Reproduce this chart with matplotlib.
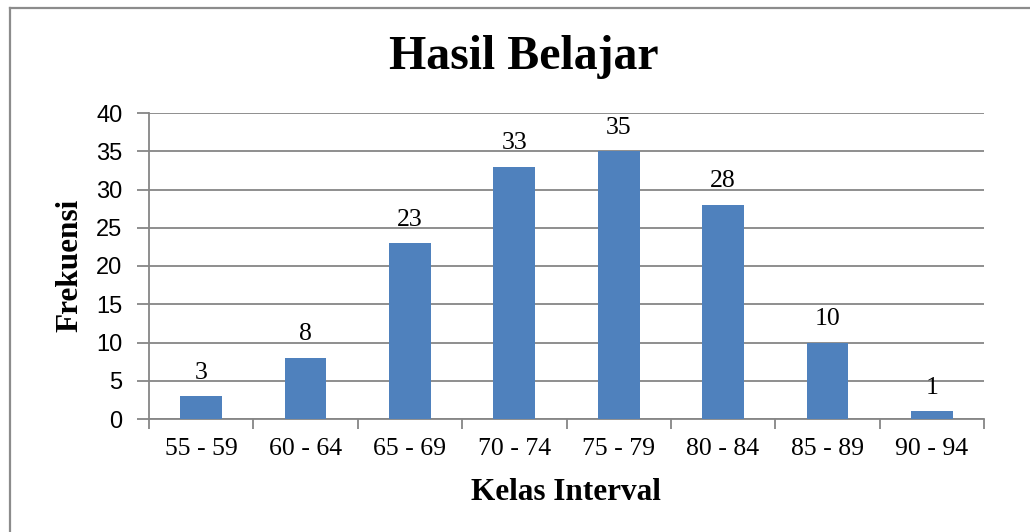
import matplotlib.pyplot as plt
from matplotlib.lines import Line2D

# Data
kelas = ["55 - 59", "60 - 64", "65 - 69", "70 - 74", "75 - 79", "80 - 84", "85 - 89", "90 - 94"]
frekuensi = [3, 8, 23, 33, 35, 28, 10, 1]

GRAY = "#868686"
BLUE = "#4F81BD"
SERIF = "Liberation Serif"
SANS = "Liberation Sans"

fig = plt.figure(figsize=(10.3, 5.32), dpi=100)
ax = fig.add_axes([149 / 1030, 1 - 419 / 532, 835 / 1030, 306 / 532])

x = range(len(kelas))
bars = ax.bar(x, frekuensi, width=0.4, color=BLUE, zorder=3)

# data labels above bars
for b, v in zip(bars, frekuensi):
    ax.annotate(str(v), (b.get_x() + b.get_width() / 2, v), xytext=(0, 9),
                textcoords="offset points", ha="center", va="bottom",
                fontsize=18.5, family=SERIF)

ax.set_xlim(-0.5, len(kelas) - 0.5)
ax.set_ylim(0, 40)
ax.set_yticks(range(0, 41, 5))
ax.grid(axis="y", color=GRAY, linewidth=1.3, zorder=0)

# ticks on category boundaries, labels in the middle
ax.set_xticks([i - 0.5 for i in range(len(kelas) + 1)])
ax.set_xticklabels([])
ax.set_xticks(list(x), minor=True)
ax.set_xticklabels(kelas, minor=True, fontsize=18.5, family=SERIF)
ax.tick_params(axis="x", which="major", length=7, width=1.3, color=GRAY)
ax.tick_params(axis="x", which="minor", length=0, pad=14)
ax.tick_params(axis="y", length=9, width=1.3, color=GRAY, pad=10)
for lab in ax.get_yticklabels():
    lab.set_fontsize(17)
    lab.set_family(SANS)

for s in ["top", "right"]:
    ax.spines[s].set_visible(False)
for s in ["left", "bottom"]:
    ax.spines[s].set_color(GRAY)
    ax.spines[s].set_linewidth(1.3)

# Titles
fig.text(524 / 1030, 1 - 57 / 532, "Hasil Belajar", ha="center", va="center",
         fontsize=34.5, fontweight="bold", family=SERIF)
fig.text(566 / 1030, 1 - 492 / 532, "Kelas Interval", ha="center", va="center",
         fontsize=22.5, fontweight="bold", family=SERIF)
fig.text(70 / 1030, 1 - 265 / 532, "Frekuensi", ha="center", va="center",
         rotation=90, fontsize=22.5, fontweight="bold", family=SERIF)

# chart frame (only top and left edges visible in the crop)
fx, fy = 9.5 / 1030, 1 - 7.5 / 532
fig.lines.append(Line2D([fx, 1.0], [fy, fy], transform=fig.transFigure,
                        color="#8c8c8c", linewidth=1.6))
fig.lines.append(Line2D([fx, fx], [0.0, fy], transform=fig.transFigure,
                        color="#8c8c8c", linewidth=1.6))

fig.savefig("out.png", dpi=100)
